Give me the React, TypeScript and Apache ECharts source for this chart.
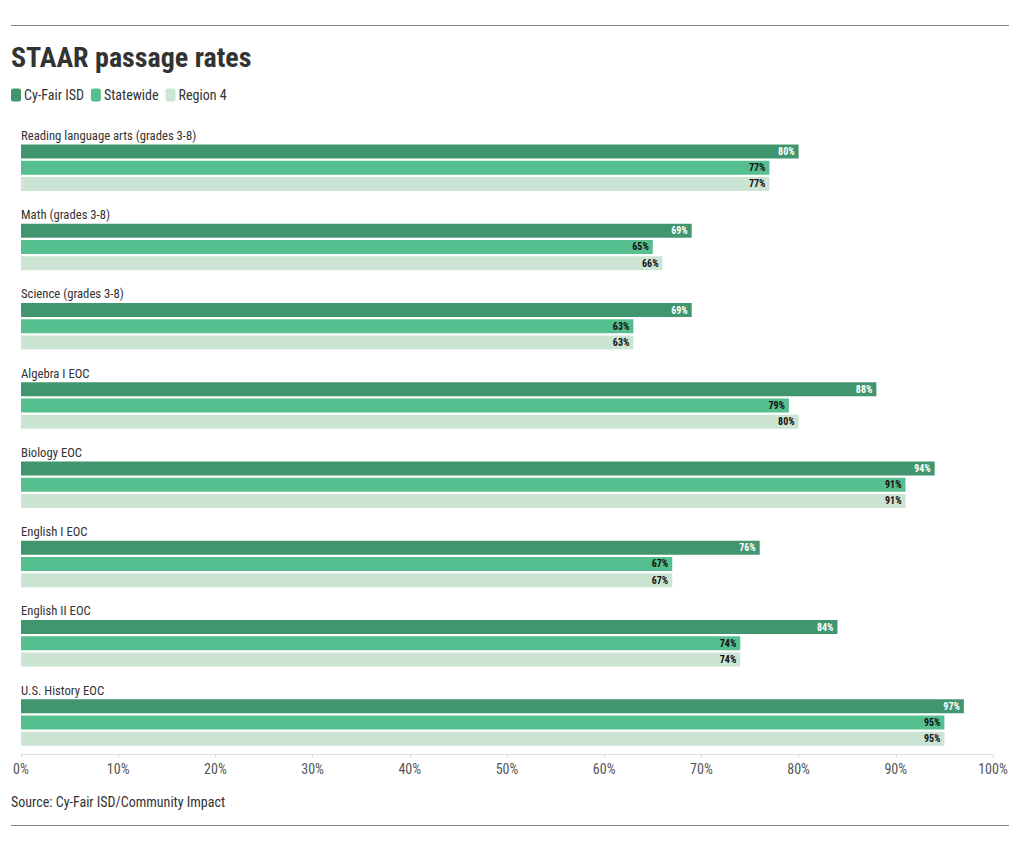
import React, { useEffect, useRef } from "react";
import * as echarts from "echarts";

const categories = [
  "Reading language arts (grades 3-8)",
  "Math (grades 3-8)",
  "Science (grades 3-8)",
  "Algebra I EOC",
  "Biology EOC",
  "English I EOC",
  "English II EOC",
  "U.S. History EOC",
];
const cyFair = [80, 69, 69, 88, 94, 76, 84, 97];
const statewide = [77, 65, 63, 79, 91, 67, 74, 95];
const region4 = [77, 66, 63, 80, 91, 67, 74, 95];
const xTicks = [0, 10, 20, 30, 40, 50, 60, 70, 80, 90, 100];

const FONT = "'Roboto Condensed', 'Liberation Sans Narrow', 'DejaVu Sans Condensed', Roboto, sans-serif";

export default function App() {
  const ref = useRef<HTMLDivElement>(null);
  useEffect(() => {
    document.body.style.margin = "0";
    const chart = echarts.init(ref.current!, null, { renderer: "svg" });
    const valueLabel = (color: string) => ({
      show: true,
      position: "insideRight" as const,
      distance: 4,
      formatter: "{c}%",
      color,
      fontSize: 10,
      fontWeight: "bold" as const,
      fontFamily: FONT,
    });
    chart.setOption({
      animation: false,
      textStyle: { fontFamily: FONT },
      title: {
        text: "STAAR passage rates",
        left: 11,
        top: 43,
        padding: 0,
        textStyle: { fontSize: 28, fontWeight: "bold", color: "#333", fontFamily: FONT },
      },
      legend: {
        left: 6,
        top: 83,
        icon: "roundRect",
        itemWidth: 10,
        itemHeight: 13,
        itemGap: 7,
        data: ["Cy-Fair ISD", "Statewide", "Region 4"],
        textStyle: { fontSize: 14, color: "#333", fontFamily: FONT, padding: [0, 0, 0, -2] },
      },
      grid: { left: 21, right: 27, top: 120, bottom: 97, containLabel: false },
      xAxis: {
        type: "value",
        min: xTicks[0],
        max: xTicks[xTicks.length - 1],
        interval: 10,
        axisLine: { show: true, lineStyle: { color: "#dddddd" } },
        axisTick: { show: true, length: 4, lineStyle: { color: "#dddddd" } },
        splitLine: { show: false },
        axisLabel: { formatter: "{value}%", color: "#555", fontSize: 14, margin: 8, fontFamily: FONT },
      },
      yAxis: {
        type: "category",
        inverse: true,
        data: categories,
        axisLine: { show: false },
        axisTick: { show: false },
        axisLabel: { show: false },
      },
      series: [
        {
          name: "label",
          type: "bar",
          data: categories.map(() => 0),
          barWidth: 14,
          barGap: "16%",
          itemStyle: { color: "transparent" },
          silent: true,
          label: {
            show: true,
            position: "right",
            distance: 0,
            formatter: (p: any) => categories[p.dataIndex],
            color: "#333",
            fontSize: 12.7,
            fontFamily: FONT,
          },
        },
        {
          name: "Cy-Fair ISD",
          type: "bar",
          data: cyFair,
          barWidth: 14,
          barGap: "16%",
          itemStyle: { color: "#41966f" },
          label: valueLabel("#ffffff"),
        },
        {
          name: "Statewide",
          type: "bar",
          data: statewide,
          barWidth: 14,
          barGap: "16%",
          itemStyle: { color: "#56bf8f" },
          label: valueLabel("#111111"),
        },
        {
          name: "Region 4",
          type: "bar",
          data: region4,
          barWidth: 14,
          barGap: "16%",
          itemStyle: { color: "#cce4d4" },
          label: valueLabel("#111111"),
        },
      ],
      graphic: [
        { type: "line", shape: { x1: 11, y1: 25.5, x2: 1009, y2: 25.5 }, style: { stroke: "#888", lineWidth: 1 } },
        { type: "line", shape: { x1: 11, y1: 825.5, x2: 1009, y2: 825.5 }, style: { stroke: "#888", lineWidth: 1 } },
        {
          type: "text",
          left: 11,
          top: 795,
          style: { text: "Source: Cy-Fair ISD/Community Impact", fontSize: 14, fill: "#333", fontFamily: FONT },
        },
      ],
    });
    return () => chart.dispose();
  }, []);
  return <div ref={ref} style={{ width: 1020, height: 851 }} />;
}
